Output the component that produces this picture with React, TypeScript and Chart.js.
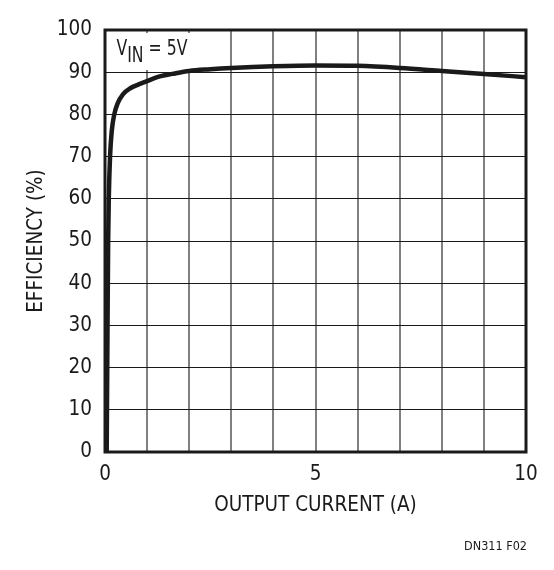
// App.tsx
import { useEffect, useRef } from "react";
import { Chart, registerables } from "chart.js";
import type { ChartConfiguration, Plugin } from "chart.js";

Chart.register(...registerables);

// ====== data ======
const CURRENT_A = [
  0.04, 0.05, 0.06, 0.075, 0.09, 0.12, 0.16, 0.22, 0.3, 0.43, 0.6, 0.8, 1.0,
  1.3, 1.6, 2.0, 2.5, 3, 4, 5, 6, 7, 8, 9, 10,
];
const EFFICIENCY = [
  0, 15, 30, 50, 60, 70, 76, 80, 82.6, 84.8, 86.2, 87.1, 87.9,
  89.0, 89.6, 90.3, 90.7, 91.0, 91.4, 91.6, 91.5, 91.0, 90.3, 89.6, 88.8,
];
const X_TICK_LABELS = [0, 5, 10];
const Y_TICK_STEP = 10;

const FONT = '"Liberation Sans Narrow", "DejaVu Sans Condensed", "Roboto", sans-serif';
const INK = "#1a1a1a";

// frame + V_IN label + figure id
const decorations: Plugin<"scatter"> = {
  id: "decorations",
  beforeDatasetsDraw(chart) {
    const { ctx, chartArea: a } = chart;
    ctx.save();
    // white box behind the label (hides the grid)
    ctx.fillStyle = "#ffffff";
    ctx.fillRect(a.left + 2, a.top + 3, 96, 37);
    ctx.fillStyle = INK;
    ctx.textBaseline = "alphabetic";
    ctx.textAlign = "left";
    ctx.font = `20.5px ${FONT}`;
    // the original label is set a bit narrower than the axis text
    ctx.translate(a.left + 11.5, a.top + 25);
    ctx.scale(0.85, 1);
    let x = 0;
    ctx.fillText("V", x, 0);
    x += ctx.measureText("V").width;
    ctx.fillText("IN", x, 6.5);
    x += ctx.measureText("IN").width;
    ctx.fillText(" = 5V", x, 0);
    ctx.restore();
  },
  afterDraw(chart) {
    const { ctx, chartArea: a } = chart;
    ctx.save();
    ctx.strokeStyle = INK;
    ctx.lineWidth = 3;
    ctx.strokeRect(a.left, a.top, a.right - a.left, a.bottom - a.top);
    ctx.fillStyle = INK;
    ctx.font = `12.5px ${FONT}`;
    ctx.textAlign = "right";
    ctx.textBaseline = "alphabetic";
    ctx.fillText("DN311 F02", a.right + 1, 550);
    ctx.restore();
  },
};

export default function EfficiencyChart() {
  const canvasRef = useRef<HTMLCanvasElement | null>(null);
  const chartRef = useRef<Chart | null>(null);

  useEffect(() => {
    document.body.style.margin = "0";
    const ctx = canvasRef.current!.getContext("2d")!;

    const points = CURRENT_A.map((x, i) => ({ x, y: EFFICIENCY[i] }));

    const config: ChartConfiguration<"scatter"> = {
      type: "scatter",
      data: {
        datasets: [
          {
            data: points,
            showLine: true,
            borderColor: INK,
            borderWidth: 4.5,
            pointRadius: 0,
            cubicInterpolationMode: "monotone",
            fill: false,
          } as any,
        ],
      },
      options: {
        responsive: true,
        maintainAspectRatio: false,
        animation: false,
        layout: { padding: { top: 30, right: 28, left: 0, bottom: 0 } },
        plugins: {
          legend: { display: false },
          tooltip: { enabled: false },
        },
        scales: {
          x: {
            type: "linear",
            min: 0,
            max: 10,
            afterFit(scale) {
              scale.height = 118;
            },
            grid: { color: "#808080", lineWidth: 2, drawTicks: false },
            border: { display: false },
            ticks: {
              stepSize: 1,
              padding: 10,
              color: INK,
              font: { family: FONT, size: 20.5 },
              callback(value) {
                return X_TICK_LABELS.includes(Number(value)) ? String(value) : "";
              },
            },
            title: {
              display: true,
              text: "OUTPUT CURRENT (A)",
              color: INK,
              font: { family: FONT, size: 20.5 },
              padding: { top: 0, bottom: 52 },
            },
          },
          y: {
            min: 0,
            max: 100,
            afterFit(scale) {
              scale.width = 105;
            },
            grid: { color: INK, lineWidth: 1, drawTicks: false },
            border: { display: false },
            ticks: {
              stepSize: Y_TICK_STEP,
              padding: 13,
              color: INK,
              font: { family: FONT, size: 20.5 },
            },
            title: {
              display: true,
              text: "EFFICIENCY (%)",
              color: INK,
              font: { family: FONT, size: 20.5 },
              padding: { top: 24, bottom: 0 },
            },
          },
        },
      },
      plugins: [decorations],
    };

    const chart = new Chart(ctx, config);
    chartRef.current = chart;

    return () => chartRef.current?.destroy();
  }, []);

  return (
    <div style={{ width: 554, height: 570, background: "#ffffff" }}>
      <canvas ref={canvasRef} />
    </div>
  );
}
